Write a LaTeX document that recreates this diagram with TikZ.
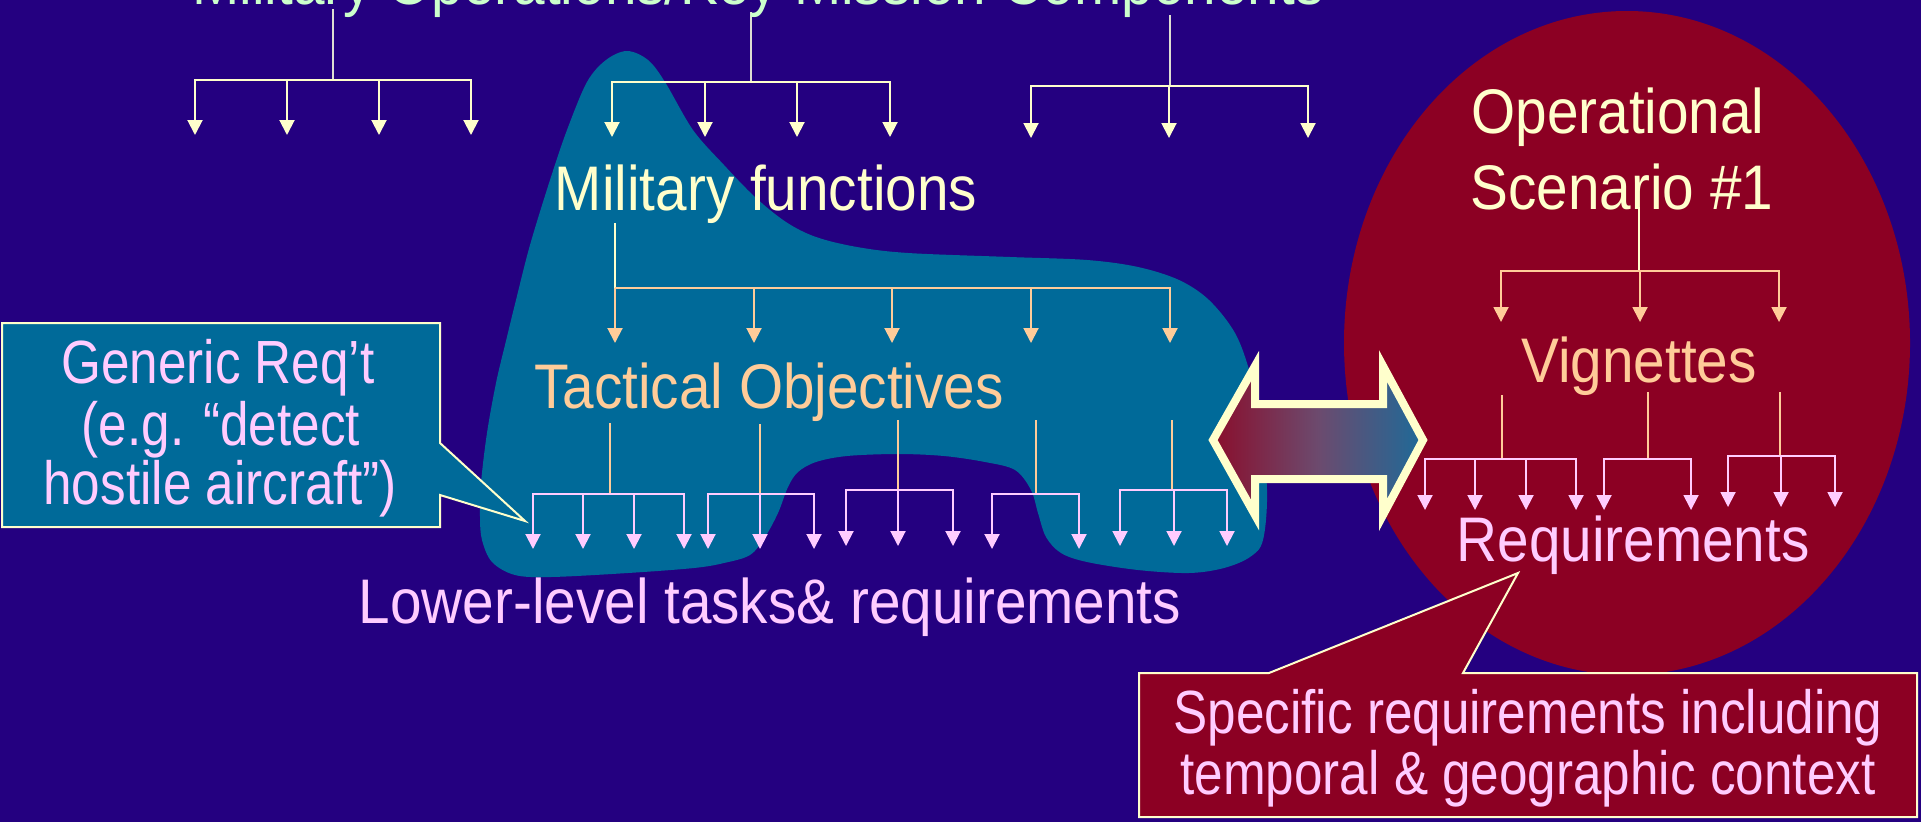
\documentclass[tikz,border=0pt]{standalone}
\usepackage{fontspec}
\newfontfamily\slidefont[FakeStretch=0.9]{Liberation Sans}
\newfontfamily\calloutfont[FakeStretch=0.84]{Liberation Sans}
\usetikzlibrary{arrows.meta}

\definecolor{slideblue}{RGB}{36,0,128}
\definecolor{blobteal}{RGB}{0,106,153}
\definecolor{scenred}{RGB}{140,0,35}
\definecolor{cream}{RGB}{255,255,204}
\definecolor{peach}{RGB}{255,204,153}
\definecolor{pinktext}{RGB}{255,204,255}
\definecolor{mint}{RGB}{204,255,204}
\definecolor{stemgrey}{RGB}{222,222,210}
\definecolor{arrowred}{RGB}{138,14,44}
\definecolor{arrowmid}{RGB}{108,74,110}
\definecolor{arrowblue}{RGB}{30,106,152}

\tikzset{
  bigtext/.style={font=\slidefont\fontsize{63}{76}\selectfont, inner sep=0pt, anchor=base},
  calltext/.style={font=\calloutfont\fontsize{61}{72}\selectfont, inner sep=0pt, anchor=base, text=pinktext},
  wire/.style={line width=2pt},
  balloon/.style={draw=cream, line width=2pt},
}

\begin{document}
\begin{tikzpicture}[x=1pt,y=-1pt]
    \pgfmathsetmacro{\tipsize}{15}
    % fan: name, stem colour, fan colour, stem x, top y, bar y, tip y, arrow xs
    \providecommand{\fan}[8]{%
      \coordinate (#1top) at (#4,#5);
      \coordinate (#1bar) at (#4,#6);
      \draw[wire,#2] (#1top) -- (#1bar);
      \foreach \ax [count=\ai] in {#8} {
        \coordinate (#1end\ai) at (\ax,#7);
        \draw[wire,#3,-{Triangle[width=\tipsize pt,length=\tipsize pt]}] (#1bar) -| (#1end\ai);
      }
    }
    \useasboundingbox (0,0) rectangle (1921,822);
    \fill[slideblue] (0,0) rectangle (1921,822);
    % teal blob round the functional tree
    \fill[blobteal] plot[smooth cycle, tension=0.55] coordinates {
      (627,51) (648,60) (665,82) (693,130) (724,165) (755,197) (786,222)
      (816,237) (857,247) (908,253) (1010,257) (1087,260) (1138,267) (1179,280)
      (1209,300) (1235,333) (1250,373) (1260,420) (1267,490) (1263,540) (1250,557)
      (1224,568) (1189,573) (1138,570) (1087,562) (1061,553) (1046,537) (1038,513)
      (1031,490) (1015,470) (985,462) (944,456) (898,454) (847,456) (816,462)
      (798,472) (788,487) (778,513) (765,537) (750,555) (724,563) (694,568)
      (628,573) (551,577) (515,575) (492,562) (482,540) (480,517) (481,483)
      (487,433) (496,383) (505,345) (516,300) (530,245) (550,180) (567,130)
      (587,82) (606,60)};
    % scenario ellipse
    \fill[scenred] (1627,343) ellipse [x radius=283, y radius=332];

    % top level
    \fan{opa}{stemgrey}{cream}{333}{9}{80}{135}{195,287,379,471}
    \fan{opb}{stemgrey}{cream}{751}{12}{82}{137}{612,705,797,890}
    \fan{opc}{stemgrey}{cream}{1170}{15}{86}{138}{1031,1169,1308}
    % functions to objectives
    \fan{fn}{cream}{peach}{615}{223}{288}{343}{615,754,892,1031,1170}
    % objectives to tasks
    \fan{ta}{peach}{pinktext}{610}{423}{494}{549}{533,583,634,684}
    \fan{tb}{peach}{pinktext}{760}{424}{494}{549}{708,760,814}
    \fan{tc}{peach}{pinktext}{898}{420}{490}{546}{846,898,953}
    \fan{td}{peach}{pinktext}{1036}{420}{494}{549}{992,1079}
    \fan{te}{peach}{pinktext}{1172}{420}{490}{546}{1120,1174,1227}
    % scenario side
    \fan{sc}{cream}{peach}{1639}{207}{271}{322}{1501,1640,1779}
    \fan{va}{peach}{pinktext}{1502}{395}{459}{510}{1425,1475,1526,1576}
    \fan{vb}{peach}{pinktext}{1648}{392}{459}{510}{1604,1691}
    \fan{vc}{peach}{pinktext}{1780}{392}{456}{507}{1728,1781,1835}

    \node[bigtext, text=mint] (ops) at (758,4) {Military Operations/Key Mission Components};
    \node[bigtext, text=cream] (func) at (766,210) {Military functions};
    \node[bigtext, text=peach] (tact) at (769,408) {Tactical Objectives};
    \node[bigtext, text=pinktext] (lower) at (770,623) {Lower-level tasks\& requirements};
    \node[bigtext, text=cream] (oper) at (1618,133) {Operational};
    \node[bigtext, text=cream] (scen) at (1622,209) {Scenario \#1};
    \node[bigtext, text=peach] (vign) at (1639,382) {Vignettes};
    \node[bigtext, text=pinktext] (reqs) at (1633,561) {Requirements};

    % callouts
    \filldraw[balloon, fill=blobteal] (2,323) -- (440,323) -- (440,443) -- (525,521)
      -- (440,495) -- (440,527) -- (2,527) -- cycle;
    \node[calltext] (gen1) at (218,383) {Generic Req’t};
    \node[calltext] (gen2) at (221,445) {(e.g. “detect};
    \node[calltext] (gen3) at (220,504) {hostile aircraft”)};
    \filldraw[balloon, fill=scenred] (1139,673) -- (1269,673) -- (1518,573) -- (1463,673)
      -- (1917,673) -- (1917,817) -- (1139,817) -- cycle;
    \node[calltext] (spec1) at (1528,733) {Specific requirements including};
    \node[calltext] (spec2) at (1528,794) {temporal \& geographic context};

    % double arrow between the two views
    \path[draw=cream, line width=8pt, left color=arrowred, right color=arrowblue, middle color=arrowmid]
      (1213,440) -- (1255,366) -- (1255,404) -- (1383,404) -- (1383,366) -- (1423,440)
      -- (1383,515) -- (1383,479) -- (1255,479) -- (1255,515) -- cycle;
\end{tikzpicture}
\end{document}
